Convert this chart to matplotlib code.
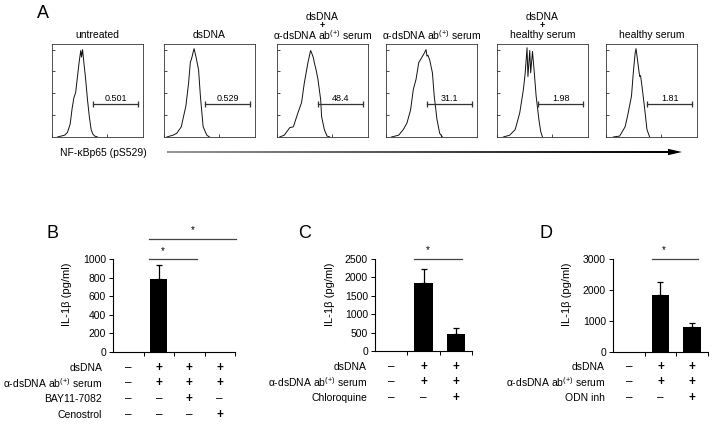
import numpy as np
import matplotlib.pyplot as plt
from matplotlib.patches import Polygon
from matplotlib.transforms import blended_transform_factory

plt.rcParams['font.family'] = ['Liberation Sans', 'DejaVu Sans']
plt.rcParams['mathtext.fontset'] = 'custom'
plt.rcParams['mathtext.rm'] = 'Liberation Sans'
plt.rcParams['mathtext.it'] = 'Liberation Sans:italic'

# --- panel A: flow histograms (x in decades, y in % of max height) ---
hist_titles = ["untreated", "dsDNA", "dsDNA\n+\nα-dsDNA ab$^{(+)}$ serum",
               "α-dsDNA ab$^{(+)}$ serum", "dsDNA\n+\nhealthy serum", "healthy serum"]
gate_labels = ["0.501", "0.529", "48.4", "31.1", "1.98", "1.81"]

h1_x = [0.3, 0.5, 0.7, 0.85, 1.0, 1.1, 1.2, 1.3, 1.4, 1.5, 1.58, 1.62, 1.68, 1.75, 1.85, 1.95, 2.05, 2.15, 2.25, 2.35, 2.5]
h1_y = [0, 1, 2, 5, 14, 30, 42, 48, 65, 82, 93, 86, 94, 80, 62, 40, 22, 8, 3, 1, 0]
h2_x = [0.15, 0.5, 0.7, 0.95, 1.05, 1.2, 1.35, 1.45, 1.5, 1.65, 1.75, 1.9, 2.0, 2.15, 2.35, 2.5]
h2_y = [0, 2, 4, 11, 20, 33, 58, 81, 83, 95, 87, 72, 44, 11, 2, 0]
h3_x = [0.15, 0.4, 0.7, 0.9, 1.05, 1.15, 1.35, 1.5, 1.6, 1.7, 1.8, 1.85, 1.95, 2.0, 2.05, 2.15, 2.25, 2.4, 2.45, 2.6, 2.75, 2.9]
h3_y = [0, 2, 10, 11, 20, 26, 37, 58, 69, 80, 89, 93, 88, 85, 80, 72, 62, 40, 22, 8, 1, 0]
h4_x = [0.3, 0.7, 0.95, 1.15, 1.35, 1.5, 1.65, 1.8, 1.95, 2.1, 2.2, 2.25, 2.3, 2.4, 2.55, 2.65, 2.8, 2.95, 3.1]
h4_y = [0, 2, 8, 15, 29, 51, 62, 80, 85, 90, 94, 87, 88, 83, 69, 44, 19, 4, 0]
h5_x = [0.35, 0.7, 1.0, 1.25, 1.45, 1.55, 1.65, 1.7, 1.8, 1.85, 1.95, 2.05, 2.15, 2.3, 2.4, 2.5]
h5_y = [0, 2, 8, 26, 51, 69, 96, 65, 93, 69, 92, 69, 44, 19, 6, 0]
h6_x = [0.4, 0.75, 1.05, 1.2, 1.4, 1.5, 1.6, 1.65, 1.75, 1.85, 1.9, 2.0, 2.15, 2.25, 2.4]
h6_y = [0, 1, 11, 24, 44, 69, 90, 95, 80, 65, 66, 51, 26, 8, 0]
hist_x = [h1_x, h2_x, h3_x, h4_x, h5_x, h6_x]
hist_y = [h1_y, h2_y, h3_y, h4_y, h5_y, h6_y]

# --- panels B, C, D: IL-1b ---
b_vals = [0, 780, 0, 0]
b_errs = [0, 160, 0, 0]
b_rows = ["dsDNA", "α-dsDNA ab$^{(+)}$ serum", "BAY11-7082", "Cenostrol"]
b_signs = [[0, 1, 1, 1], [0, 1, 1, 1], [0, 0, 1, 0], [0, 0, 0, 1]]

c_vals = [0, 1850, 460]
c_errs = [0, 370, 165]
c_rows = ["dsDNA", "α-dsDNA ab$^{(+)}$ serum", "Chloroquine"]
c_signs = [[0, 1, 1], [0, 1, 1], [0, 0, 1]]

d_vals = [0, 1850, 800]
d_errs = [0, 400, 130]
d_rows = ["dsDNA", "α-dsDNA ab$^{(+)}$ serum", "ODN inh"]
d_signs = [[0, 1, 1], [0, 1, 1], [0, 0, 1]]

W, H = 714, 424
fig = plt.figure(figsize=(W / 100, H / 100), dpi=100)


def px_ax(l, t, w, h):
    return fig.add_axes([l / W, 1 - (t + h) / H, w / W, h / H])


ov = fig.add_axes([0, 0, 1, 1])
ov.set_xlim(0, W)
ov.set_ylim(H, 0)
ov.axis('off')

# panel A
ov.text(43, 14, "A", fontsize=13, ha='center', va='center')
lefts = [52, 164, 277, 386, 497, 606]
for i in range(6):
    ax = px_ax(lefts[i], 44, 91, 93)
    ax.plot(10 ** np.array(hist_x[i]), hist_y[i], color='#111111', lw=0.7)
    ax.set_xscale('log')
    ax.set_xlim(1, 1e5)
    ax.set_ylim(0, 100)
    ax.set_yticks([23.5, 47, 70.5, 94])
    ax.tick_params(direction='in', length=2, width=0.5, labelleft=False, labelbottom=False)
    ax.tick_params(which='minor', direction='in', length=1.2, width=0.4)
    for s in ax.spines.values():
        s.set_linewidth(0.6)
        s.set_color('#333333')
    # gate
    ax.plot([10 ** 2.25, 10 ** 4.75], [35.5, 35.5], color='#333333', lw=0.9)
    ax.plot([10 ** 2.25, 10 ** 4.75], [35.5, 35.5], color='#333333', lw=0,
            marker='|', markersize=4, markeredgewidth=0.9)
    ax.text(10 ** 3.5, 41, gate_labels[i], fontsize=6.5, ha='center', va='center')
    cx = lefts[i] + 45.5
    lines = hist_titles[i].split("\n")
    if len(lines) == 1:
        ov.text(cx, 35.5, lines[0], fontsize=7.5, ha='center', va='center')
    else:
        ov.text(cx, 16.5, lines[0], fontsize=7.5, ha='center', va='center')
        ov.text(cx, 25.5, lines[1], fontsize=6.5, ha='center', va='center', fontweight='bold')
        ov.text(cx, 35.5, lines[2], fontsize=7.5, ha='center', va='center')

ov.text(60, 152.5, "NF-κBp65 (pS529)", fontsize=7.5, ha='left', va='center')
ov.add_patch(Polygon([(167, 151.6), (670, 151.0), (670, 153.0), (167, 152.4)],
                     closed=True, color='k', lw=0))
ov.add_patch(Polygon([(668, 148.8), (682, 152), (668, 155.2)], closed=True, color='k', lw=0))


def bar_panel(rect, vals, errs, ymax, ystep, rows, signs, label_right, row_ys,
              letter, letter_xy, ylab_x, sigs):
    ax = px_ax(*rect)
    n = len(vals)
    x = np.arange(n)
    vals = np.array(vals, dtype=float)
    errs = np.array(errs, dtype=float)
    ax.bar(x, vals, width=0.56, color='k')
    m = errs > 0
    ax.errorbar(x[m], vals[m], yerr=[np.zeros(m.sum()), errs[m]], fmt='none',
                ecolor='k', elinewidth=0.9, capsize=2.5, capthick=0.9)
    ax.set_xlim(-0.5, n - 0.5)
    ax.set_ylim(0, ymax)
    ax.set_yticks(np.arange(0, ymax + 1, ystep))
    ax.set_xticks(np.arange(0.5, n, 1.0))
    ax.set_xticklabels([])
    ax.tick_params(axis='y', direction='out', length=3, width=0.7, labelsize=7.5, pad=2)
    ax.tick_params(axis='x', direction='out', length=3, width=0.7)
    for s in ['top', 'right']:
        ax.spines[s].set_visible(False)
    for s in ['left', 'bottom']:
        ax.spines[s].set_linewidth(0.8)
    tr = blended_transform_factory(ax.transData, ov.transData)
    for r, (lab, sg) in enumerate(zip(rows, signs)):
        ov.text(label_right, row_ys[r], lab, fontsize=7.5, ha='right', va='center')
        for j, s in enumerate(sg):
            ax.text(j, row_ys[r], '+' if s else '–', transform=tr, fontsize=8.5,
                    ha='center', va='center', clip_on=False,
                    fontweight='bold' if s else 'normal')
    ov.text(letter_xy[0], letter_xy[1], letter, fontsize=13, ha='center', va='center')
    ov.text(ylab_x, 294, "IL-1β (pg/ml)", fontsize=8, rotation=90, ha='center', va='center')
    for (x0, x1, y, sx, sy) in sigs:
        ax.plot([x0, x1], [y, y], color='#444444', lw=0.9, clip_on=False)
        ax.text(sx, sy, '*', fontsize=7, ha='center', va='center', clip_on=False)
    return ax


bar_panel((113, 259, 122, 93), b_vals, b_errs, 1000, 200, b_rows, b_signs, 102,
          [368, 383, 399, 415], "B", (53, 233), 67,
          [(0.68, 2.25, 1000, 1.14, 1090), (0.68, 3.53, 1215, 2.12, 1315)])
bar_panel((375, 259, 97, 92), c_vals, c_errs, 2500, 500, c_rows, c_signs, 367,
          [367, 382, 398], "C", (305, 233), 330,
          [(0.71, 2.19, 2500, 1.14, 2730)])
bar_panel((613, 259, 95, 93), d_vals, d_errs, 3000, 1000, d_rows, d_signs, 605,
          [367, 382, 398], "D", (546, 233), 567,
          [(0.73, 2.18, 3000, 1.11, 3280)])

fig.savefig("out.png", dpi=100)
